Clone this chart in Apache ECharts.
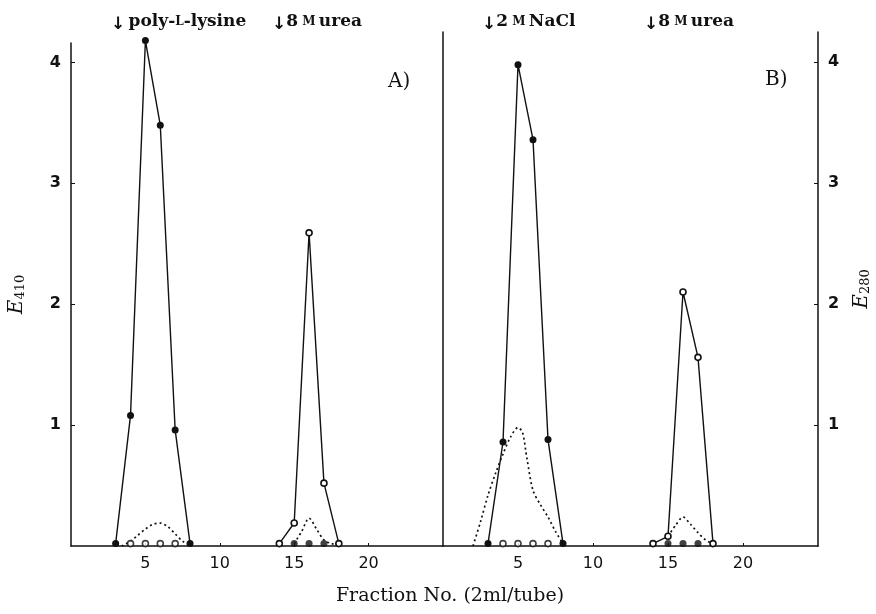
<!DOCTYPE html>
<html>
<head>
<meta charset="utf-8">
<script src="https://cdn.jsdelivr.net/npm/echarts@6/dist/echarts.min.js"></script>
<style>
  html, body { margin: 0; padding: 0; background: #fff; }
  #chart { width: 876px; height: 614px; }
</style>
</head>
<body>
<div id="chart"></div>
<script>
// tick labels
const xTicks = [5, 10, 15, 20];
const yTicks = [1, 2, 3, 4];

// panel A) poly-L-lysine column
const aPeak1Frac = [3, 4, 5, 6, 7, 8];
const aPeak1E410 = [0.02, 1.08, 4.18, 3.48, 0.96, 0.02];
const aBase1Frac = [15, 16, 17];
const aBase1E410 = [0.02, 0.02, 0.02];
const aBase2Frac = [4, 5, 6, 7];
const aBase2E280 = [0.02, 0.02, 0.02, 0.02];
const aPeak2Frac = [14, 15, 16, 17, 18];
const aPeak2E280 = [0.02, 0.19, 2.59, 0.52, 0.02];
const aDot1Frac = [3.4, 4, 4.5, 5, 5.5, 6, 6.5, 7, 7.5, 8];
const aDot1Val = [0, 0.04, 0.09, 0.14, 0.18, 0.19, 0.16, 0.1, 0.04, 0.01];
const aDot2Frac = [15, 15.5, 16, 16.5, 17, 17.5, 18];
const aDot2Val = [0.02, 0.12, 0.23, 0.14, 0.05, 0.02, 0.01];

// panel B) NaCl column
const bPeak1Frac = [3, 4, 5, 6, 7, 8];
const bPeak1E410 = [0.02, 0.86, 3.98, 3.36, 0.88, 0.02];
const bBase1Frac = [15, 16, 17];
const bBase1E410 = [0.02, 0.02, 0.02];
const bBase2Frac = [4, 5, 6, 7];
const bBase2E280 = [0.02, 0.02, 0.02, 0.02];
const bPeak2Frac = [14, 15, 16, 17, 18];
const bPeak2E280 = [0.02, 0.08, 2.1, 1.56, 0.02];
const bDot1Frac = [2, 2.5, 3, 3.5, 4, 4.5, 5, 5.3, 5.6, 6, 6.5, 7, 7.5, 8];
const bDot1Val = [0, 0.2, 0.42, 0.6, 0.76, 0.9, 0.98, 0.94, 0.72, 0.46, 0.34, 0.24, 0.12, 0.02];
const bDot2Frac = [15, 15.5, 16, 16.5, 17, 17.5, 18];
const bDot2Val = [0.08, 0.17, 0.24, 0.18, 0.11, 0.05, 0.02];

const ink = '#111';
const zip = (xs, ys) => xs.map((x, i) => [x, ys[i]]);

const filled = { symbol: 'circle', symbolSize: 7, itemStyle: { color: ink } };
const hollow = { symbol: 'circle', symbolSize: 6, itemStyle: { color: '#fff', borderColor: ink, borderWidth: 1.6 } };

function solid(data, xi, yi, marker) {
    return Object.assign({
        type: 'line', data: data, xAxisIndex: xi, yAxisIndex: yi,
        showSymbol: true, z: 3, clip: false,
        lineStyle: { color: ink, width: 1.4 }
    }, marker);
}
function dots(data, xi, yi, marker) {
    return Object.assign({ type: 'scatter', data: data, xAxisIndex: xi, yAxisIndex: yi, z: 4, clip: false }, marker);
}
function dotted(data, xi, yi) {
    return {
        type: 'line', data: data, xAxisIndex: xi, yAxisIndex: yi,
        smooth: 0.3, showSymbol: false, z: 2,
        lineStyle: { color: ink, width: 1.7, type: [2, 3] }
    };
}

const tickFont = { color: ink, fontFamily: 'DejaVu Sans', fontSize: 16 };

function xAxis(grid) {
    return {
        type: 'value', gridIndex: grid, min: 0, max: 25,
        axisLine: { lineStyle: { color: ink, width: 1.5 } },
        axisTick: { inside: true, length: 3, customValues: xTicks, lineStyle: { color: ink } },
        axisLabel: Object.assign({ customValues: xTicks, margin: 10 }, tickFont),
        splitLine: { show: false }
    };
}
function yAxis(grid, pos, max, withLabels, name, gap) {
    return {
        type: 'value', gridIndex: grid, position: pos, min: 0, max: max,
        axisLine: { show: true, onZero: false, lineStyle: { color: ink, width: 1.5 } },
        axisTick: { show: withLabels, inside: true, length: 4, customValues: yTicks, lineStyle: { color: ink } },
        axisLabel: Object.assign({ show: withLabels, customValues: yTicks, margin: 10, fontWeight: 'bold' }, tickFont),
        splitLine: { show: false },
        name: name,
        nameLocation: 'middle',
        nameRotate: 90,
        nameGap: gap,
        nameTextStyle: {
            rich: {
                e: { fontFamily: 'DejaVu Serif', fontStyle: 'italic', fontSize: 20, color: ink },
                s: { fontFamily: 'DejaVu Serif', fontSize: 13, color: ink, padding: [8, 0, 0, 0] }
            }
        }
    };
}

const serif = 'DejaVu Serif';
function note(x, y, rich) {
    return {
        type: 'text', x: x, y: y,
        style: {
            text: rich,
            textVerticalAlign: 'middle',
            rich: {
                t: { fontFamily: serif, fontWeight: 'bold', fontSize: 17, fill: ink, color: ink },
                sc: { fontFamily: serif, fontWeight: 'bold', fontSize: 12, fill: ink, color: ink },
                a: { fontFamily: 'DejaVu Sans', fontWeight: 'bold', fontSize: 17, fill: ink, color: ink, padding: [6, 0, 0, 0] }
            }
        }
    };
}

const option = {
    animation: false,
    backgroundColor: '#fff',
    grid: [
        { left: 71, width: 372, top: 43, bottom: 68, outerBoundsMode: 'none' },
        { left: 443, width: 375, top: 32, bottom: 68, outerBoundsMode: 'none' }
    ],
    xAxis: [xAxis(0), xAxis(1)],
    yAxis: [
        yAxis(0, 'left', 4.16, true, '{e|E}{s|410}', 44),
        yAxis(1, 'left', 4.25, false, '', 0),
        yAxis(1, 'right', 4.25, true, '{e|E}{s|280}', 33)
    ],
    series: [
        dotted(zip(aDot1Frac, aDot1Val), 0, 0),
        dotted(zip(aDot2Frac, aDot2Val), 0, 0),
        solid(zip(aPeak1Frac, aPeak1E410), 0, 0, filled),
        dots(zip(aBase1Frac, aBase1E410), 0, 0, filled),
        dots(zip(aBase2Frac, aBase2E280), 0, 0, hollow),
        solid(zip(aPeak2Frac, aPeak2E280), 0, 0, hollow),

        dotted(zip(bDot1Frac, bDot1Val), 1, 2),
        dotted(zip(bDot2Frac, bDot2Val), 1, 2),
        solid(zip(bPeak1Frac, bPeak1E410), 1, 2, filled),
        dots(zip(bBase1Frac, bBase1E410), 1, 2, filled),
        dots(zip(bBase2Frac, bBase2E280), 1, 2, hollow),
        solid(zip(bPeak2Frac, bPeak2E280), 1, 2, hollow)
    ],
    graphic: [
        note(111, 22, '{a|↓} {t|poly-}{sc|L}{t|-lysine}'),
        note(272, 22, '{a|↓}{t|8}{sc| M} {t|urea}'),
        note(482, 22, '{a|↓}{t|2}{sc| M} {t|NaCl}'),
        note(644, 22, '{a|↓}{t|8}{sc| M} {t|urea}'),
        { type: 'text', x: 388, y: 82, style: { text: 'A)', font: '20px "DejaVu Serif"', fill: ink, textVerticalAlign: 'middle' } },
        { type: 'text', x: 765, y: 80, style: { text: 'B)', font: '20px "DejaVu Serif"', fill: ink, textVerticalAlign: 'middle' } },
        { type: 'text', x: 450, y: 596, style: { text: 'Fraction No. (2ml/tube)', font: '19px "DejaVu Serif"', fill: ink, textAlign: 'center', textVerticalAlign: 'middle' } }
    ]
};

const chart = echarts.init(document.getElementById('chart'));
chart.setOption(option);
</script>
</body>
</html>
